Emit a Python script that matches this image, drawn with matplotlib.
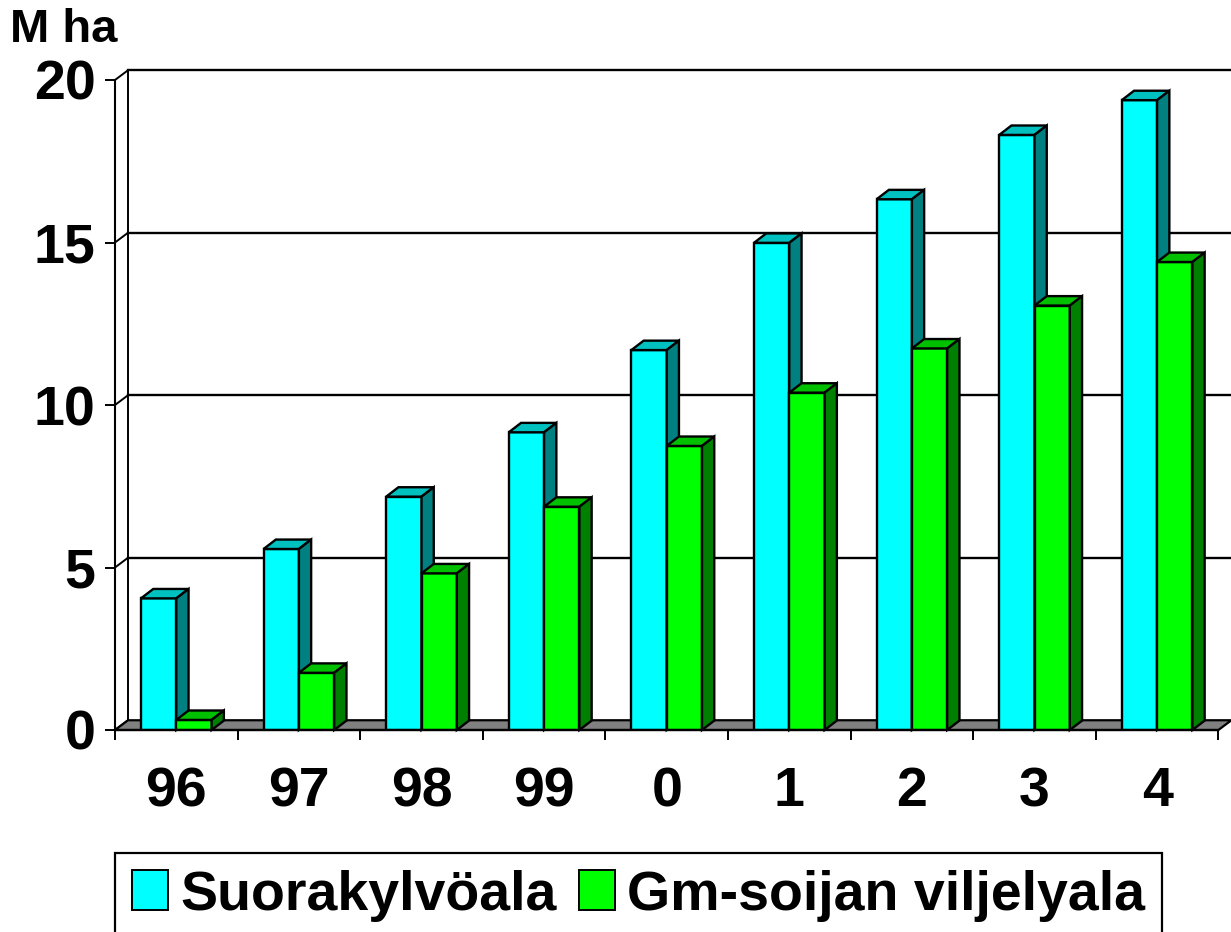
import matplotlib.pyplot as plt
from matplotlib.patches import Polygon, Patch

# Data (million hectares)
years = ['96', '97', '98', '99', '0', '1', '2', '3', '4']
suorakylvo = [4.05, 5.57, 7.18, 9.16, 11.69, 14.99, 16.33, 18.31, 19.38]
gm_soija = [0.31, 1.76, 4.82, 6.87, 8.74, 10.38, 11.74, 13.06, 14.40]
series_labels = ['Suorakylvöala', 'Gm-soijan viljelyala']
yticks = [0, 5, 10, 15, 20]

# colours: front, top, side
cyan = ('#00FFFF', '#00C0C0', '#008080')
green = ('#00FF00', '#00C000', '#008000')
floor_color = '#808080'

plt.rcParams['font.family'] = ['Liberation Sans', 'DejaVu Sans']
plt.rcParams['font.weight'] = 'bold'

fig = plt.figure(figsize=(12.31, 9.32), dpi=100)
W, H = 1231, 932
ax = fig.add_axes([115 / W, (H - 730) / H, 1103.4 / W, 650 / H])
ax.set_xlim(0, len(years))
ax.set_ylim(0, 20)

# fake depth of the 3D look (data units)
wall_dx, wall_dy = 0.106, 0.30
bar_dx, bar_dy = 0.10, 0.29
bar_w = 0.288
bar_off = 0.212
edge_lw = 1.7

n = len(years)

# floor
floor = Polygon([(0, 0), (n, 0), (n + wall_dx, wall_dy), (wall_dx, wall_dy)],
                closed=True, facecolor=floor_color, edgecolor='black', lw=1.6,
                clip_on=False, zorder=1)
ax.add_patch(floor)

# back wall grid + side wall diagonals
for v in yticks:
    if v > 0:
        ax.plot([wall_dx, n + wall_dx], [v + wall_dy, v + wall_dy], color='black',
                lw=1.7, clip_on=False, zorder=0.5)
    ax.plot([0, wall_dx], [v, v + wall_dy], color='black', lw=1.4,
            clip_on=False, zorder=0.5)
ax.plot([wall_dx, wall_dx], [wall_dy, 20 + wall_dy], color='black', lw=1.4,
        clip_on=False, zorder=0.5)


def draw_bar(x0, h, cols, z):
    ax.bar(x0, h, width=bar_w, align='edge', color=cols[0], edgecolor='black',
           lw=edge_lw, zorder=z)
    top = Polygon([(x0, h), (x0 + bar_w, h), (x0 + bar_w + bar_dx, h + bar_dy),
                   (x0 + bar_dx, h + bar_dy)], closed=True, facecolor=cols[1],
                  edgecolor='black', lw=edge_lw, zorder=z, clip_on=False)
    side = Polygon([(x0 + bar_w, 0), (x0 + bar_w, h), (x0 + bar_w + bar_dx, h + bar_dy),
                    (x0 + bar_w + bar_dx, bar_dy)], closed=True, facecolor=cols[2],
                   edgecolor='black', lw=edge_lw, zorder=z, clip_on=False)
    ax.add_patch(top)
    ax.add_patch(side)


z = 2
for i in range(n):
    draw_bar(i + bar_off, suorakylvo[i], cyan, z)
    z += 1
    draw_bar(i + bar_off + bar_w, gm_soija[i], green, z)
    z += 1

# axes styling
for s in ['top', 'right']:
    ax.spines[s].set_visible(False)
ax.spines['left'].set_linewidth(1.5)
ax.spines['bottom'].set_linewidth(1.6)
ax.spines['bottom'].set_zorder(50)
ax.set_yticks(yticks)
ax.set_yticklabels([str(v) for v in yticks], fontsize=40, fontweight='bold')
ax.tick_params(axis='y', length=7, width=1.4, pad=7)
ax.set_xticks(range(n + 1))
ax.set_xticklabels([])
ax.tick_params(axis='x', which='major', length=7, width=1.4)
ax.set_xticks([i + 0.5 for i in range(n)], minor=True)
ax.set_xticklabels(years, minor=True, fontsize=40, fontweight='bold')
ax.tick_params(axis='x', which='minor', length=0, pad=26)

fig.text(10 / W, 1 - 8 / H, 'M ha', fontsize=34, fontweight='bold', va='top', ha='left')

handles = [Patch(facecolor=cyan[0], edgecolor='black', lw=1.4),
           Patch(facecolor=green[0], edgecolor='black', lw=1.4)]
leg = fig.legend(handles, series_labels, loc='upper left',
                 bbox_to_anchor=(115 / W, 1 - 853 / H), ncol=2, frameon=True,
                 fancybox=False, edgecolor='black', framealpha=1,
                 prop={'size': 40, 'weight': 'bold'}, handlelength=0.65,
                 handleheight=0.72, handletextpad=0.22, columnspacing=0.4,
                 borderpad=0.3, borderaxespad=0)
leg.get_frame().set_linewidth(1.6)

fig.savefig('out.png', dpi=100)
